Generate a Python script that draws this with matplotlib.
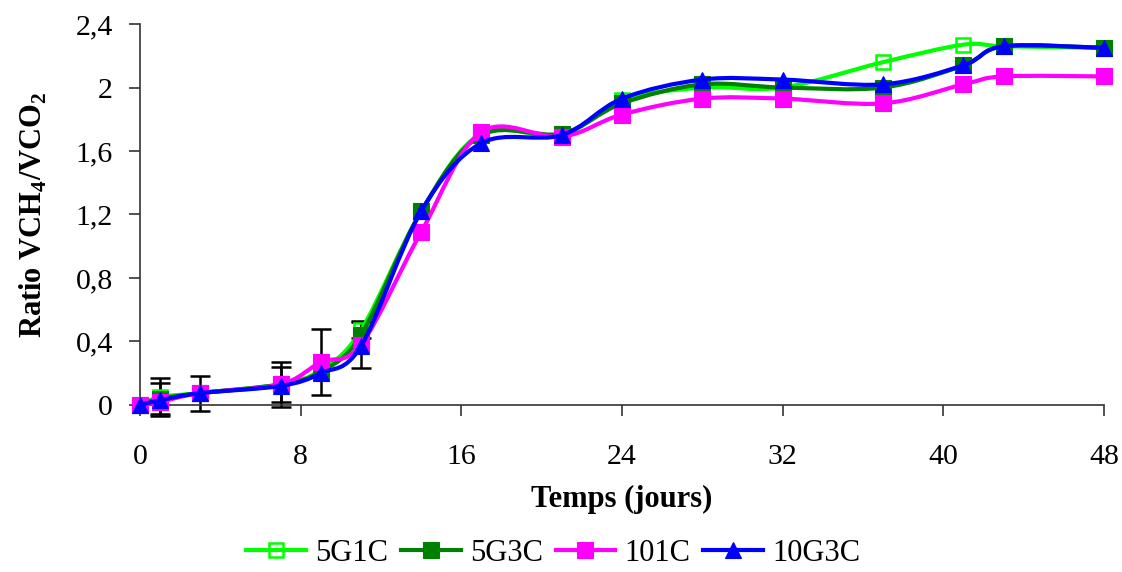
import numpy as np
import matplotlib
matplotlib.use("Agg")
import matplotlib.pyplot as plt
from matplotlib.path import Path
from matplotlib.patches import PathPatch
from matplotlib.lines import Line2D

plt.rcParams['font.family'] = ['Liberation Serif', 'DejaVu Serif']
plt.rcParams['mathtext.fontset'] = 'custom'
plt.rcParams['mathtext.rm'] = 'Liberation Serif:bold'
plt.rcParams['mathtext.bf'] = 'Liberation Serif:bold'

# ---- data ----
days = [0, 1, 3, 7, 9, 11, 14, 17, 21, 24, 28, 32, 37, 41, 43, 48]
s_5G1C = [0, 0.05, 0.075, 0.13, 0.22, 0.47, 1.22, 1.71, 1.70, 1.92, 2.00, 2.00, 2.16, 2.27, 2.26, 2.25]
s_5G3C = [0, 0.04, 0.075, 0.13, 0.21, 0.44, 1.22, 1.70, 1.71, 1.90, 2.02, 2.00, 2.00, 2.14, 2.26, 2.25]
s_101C = [0, 0.02, 0.075, 0.13, 0.27, 0.38, 1.09, 1.72, 1.69, 1.83, 1.93, 1.93, 1.90, 2.02, 2.07, 2.07]
s_10G3C = [0, 0.03, 0.075, 0.12, 0.20, 0.37, 1.22, 1.65, 1.70, 1.93, 2.05, 2.05, 2.02, 2.14, 2.26, 2.25]

err_5G1C = [0, 0.12, 0.11, 0.14, 0, 0.05, 0, 0, 0, 0, 0, 0, 0, 0, 0, 0]
err_5G3C = [0, 0.10, 0, 0.11, 0, 0, 0, 0, 0, 0, 0, 0, 0, 0, 0, 0]
err_101C = [0, 0, 0, 0, 0.21, 0.15, 0, 0, 0, 0, 0, 0, 0, 0, 0, 0]
err_10G3C = [0, 0, 0, 0, 0, 0, 0, 0, 0, 0, 0, 0, 0, 0, 0, 0]

labels = ['5G1C', '5G3C', '101C', '10G3C']
xticks = [0, 8, 16, 24, 32, 40, 48]
yticks = [0, 0.4, 0.8, 1.2, 1.6, 2.0, 2.4]
yticklabels = ['0', '0,4', '0,8', '1,2', '1,6', '2', '2,4']

series = [s_5G1C, s_5G3C, s_101C, s_10G3C]
errs = [err_5G1C, err_5G3C, err_101C, err_10G3C]
colors = ['#00FF00', '#008000', '#FF00FF', '#0000FF']
markers = ['s', 's', 's', '^']
mfcs = ['none', '#008000', '#FF00FF', '#0000FF']
msizes = [10, 12, 12, 12]


def smooth_path(x, y):
    x = np.asarray(x, float)
    y = np.asarray(y, float)
    n = len(x)
    verts = [(x[0], y[0])]
    codes = [Path.MOVETO]
    for i in range(n - 1):
        i0 = max(i - 1, 0)
        i3 = min(i + 2, n - 1)
        c1 = (x[i] + (x[i + 1] - x[i0]) / 6, y[i] + (y[i + 1] - y[i0]) / 6)
        c2 = (x[i + 1] - (x[i3] - x[i]) / 6, y[i + 1] - (y[i3] - y[i]) / 6)
        verts += [c1, c2, (x[i + 1], y[i + 1])]
        codes += [Path.CURVE4] * 3
    return Path(verts, codes)


fig = plt.figure(figsize=(11.22, 5.72), dpi=100)
ax = fig.add_axes([0.1248, 0.292, 0.8592, 0.666])

handles = []
for k, (s, e) in enumerate(zip(series, errs)):
    e = np.asarray(e)
    mask = e > 0
    if mask.any():
        ax.errorbar(np.asarray(days)[mask], np.asarray(s)[mask], yerr=e[mask],
                    fmt='none', ecolor='black', elinewidth=1.8, capsize=7,
                    capthick=1.8, zorder=2 + k * 0.1, clip_on=False)
for k, s in enumerate(series):
    patch = PathPatch(smooth_path(days, s), facecolor='none', edgecolor=colors[k],
                      lw=3, zorder=3 + k, clip_on=False, joinstyle='round')
    ax.add_patch(patch)
    ax.plot(days, s, linestyle='none', marker=markers[k], ms=msizes[k],
            mfc=mfcs[k], mec=colors[k], mew=1.8 if k == 0 else 0.8,
            zorder=3.5 + k, clip_on=False)
    handles.append(Line2D([], [], color=colors[k], lw=3, marker=markers[k],
                          ms=msizes[k], mfc=mfcs[k], mec=colors[k],
                          mew=1.8 if k == 0 else 0.8))

ax.set_xlim(0, 48)
ax.set_ylim(0, 2.4)
ax.set_xticks(xticks)
ax.set_xticklabels([str(t) for t in xticks])
ax.set_yticks(yticks)
ax.set_yticklabels(yticklabels)
ax.tick_params(axis='both', labelsize=21.5, direction='out', length=8, width=1.2,
               color='#333333')
ax.tick_params(axis='x', pad=20)
ax.tick_params(axis='y', pad=11.5)
for sp in ['top', 'right']:
    ax.spines[sp].set_visible(False)
for sp in ['left', 'bottom']:
    ax.spines[sp].set_color('#333333')
    ax.spines[sp].set_linewidth(1.2)

ax.set_xlabel('Temps (jours)', fontsize=22, fontweight='bold', labelpad=11)
ax.set_ylabel(r'Ratio VCH$_4$/VCO$_2$', fontsize=22, fontweight='bold', labelpad=19)

fig.legend(handles, labels, loc='center', bbox_to_anchor=(0.493, 0.033), ncol=4,
           frameon=False, fontsize=22, handlelength=1.96, handletextpad=0.3,
           columnspacing=0.42)

fig.savefig('out.png', dpi=100)
